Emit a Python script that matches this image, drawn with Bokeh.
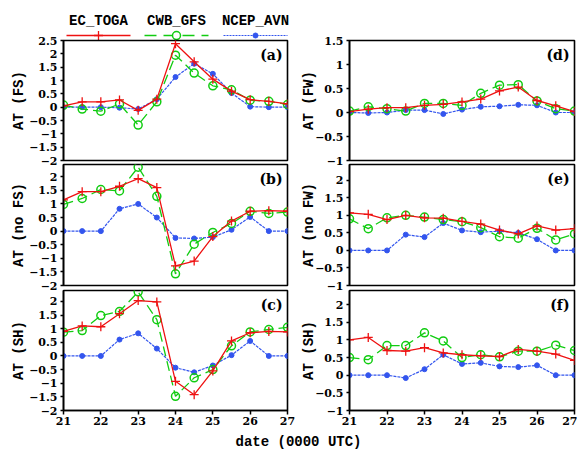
from bokeh.plotting import figure
from bokeh.layouts import column, row
from bokeh.models import Range1d, FixedTicker, Label
from bokeh.core.properties import value
from bokeh.embed import file_html
from bokeh.resources import INLINE

# ---------------- data ----------------
DATES = [21.0, 21.5, 22.0, 22.5, 23.0, 23.5, 24.0, 24.5, 25.0, 25.5, 26.0, 26.5, 27.0]
X_TICKS = [21, 22, 23, 24, 25, 26, 27]
SERIES = ["EC_TOGA", "CWB_GFS", "NCEP_AVN"]

# (a) AT (FS)
EC_FS = [0.05, 0.20, 0.20, 0.27, -0.12, 0.30, 2.38, 1.70, 1.05, 0.60, 0.28, 0.22, 0.12]
CWB_FS = [0.08, -0.07, -0.15, 0.12, -0.67, 0.20, 1.95, 1.28, 0.80, 0.65, 0.26, 0.22, 0.10]
NCEP_FS = [0.0, 0.0, 0.0, -0.02, -0.07, 0.30, 1.13, 1.63, 1.25, 0.53, 0.02, 0.0, 0.0]

# (b) AT (no FS)
EC_NOFS = [1.15, 1.45, 1.45, 1.65, 1.93, 1.60, -1.28, -1.10, -0.20, 0.37, 0.73, 0.75, 0.73]
CWB_NOFS = [0.98, 1.20, 1.53, 1.48, 2.35, 1.28, -1.57, -0.48, -0.05, 0.28, 0.73, 0.65, 0.70]
NCEP_NOFS = [0.0, 0.0, 0.0, 0.82, 1.00, 0.50, -0.25, -0.27, -0.22, 0.05, 0.52, 0.0, 0.0]

# (c) AT (SH) left
EC_SH1 = [0.90, 1.10, 1.07, 1.55, 2.03, 1.98, -0.93, -1.42, -0.55, 0.55, 0.85, 0.90, 0.88]
CWB_SH1 = [0.87, 0.93, 1.48, 1.63, 2.35, 1.33, -1.48, -0.80, -0.50, 0.37, 0.88, 0.97, 1.05]
NCEP_SH1 = [0.0, 0.0, 0.0, 0.60, 0.83, 0.27, -0.43, -0.60, -0.35, 0.03, 0.55, 0.0, 0.0]

# (d) AT (FW)
EC_FW = [0.02, 0.07, 0.10, 0.10, 0.15, 0.17, 0.22, 0.28, 0.45, 0.53, 0.25, 0.14, 0.02]
CWB_FW = [0.03, 0.12, 0.08, 0.03, 0.19, 0.19, 0.15, 0.40, 0.57, 0.58, 0.24, 0.08, 0.03]
NCEP_FW = [0.0, -0.01, 0.0, 0.05, 0.05, -0.03, 0.06, 0.12, 0.13, 0.16, 0.15, 0.0, 0.0]

# (e) AT (no FW)
EC_NOFW = [1.07, 1.03, 0.88, 1.00, 0.93, 0.92, 0.83, 0.75, 0.58, 0.47, 0.70, 0.58, 0.62]
CWB_NOFW = [0.90, 0.62, 0.93, 1.00, 0.95, 0.88, 0.82, 0.65, 0.39, 0.35, 0.63, 0.30, 0.47]
NCEP_NOFW = [0.0, 0.0, 0.0, 0.45, 0.38, 0.78, 0.57, 0.52, 0.55, 0.50, 0.32, 0.0, 0.0]

# (f) AT (SH) right
EC_SH2 = [1.00, 1.07, 0.70, 0.68, 0.78, 0.63, 0.58, 0.55, 0.53, 0.73, 0.68, 0.60, 0.42]
CWB_SH2 = [0.50, 0.44, 0.84, 0.84, 1.20, 0.97, 0.50, 0.58, 0.52, 0.68, 0.68, 0.85, 0.70]
NCEP_SH2 = [0.0, 0.0, 0.0, -0.08, 0.17, 0.58, 0.32, 0.35, 0.25, 0.23, 0.28, 0.0, 0.0]

TICKS_A = [-2, -1.5, -1, -0.5, 0, 0.5, 1, 1.5, 2, 2.5]
TICKS_BC = [-2, -1.5, -1, -0.5, 0, 0.5, 1, 1.5, 2]
TICKS_D = [-1, -0.5, 0, 0.5, 1, 1.5]
TICKS_EF = [-1, -0.5, 0, 0.5, 1, 1.5, 2]

# ---------------- style ----------------
RED = "#ee1111"
GREEN = "#11cc11"
BLUE = "#3355ee"
TICK_FONT = "DejaVu Serif"
LABEL_FONT = "Liberation Mono"


def fmt(v):
    s = ("%g" % v)
    return s.replace("-", "\u2212")


def panel(ylabel, tag, yr, yticks, ec, cwb, ncep, fw, left, right, top, fh, bottom,
          show_x, lab_standoff, margin):
    p = figure(frame_width=fw, frame_height=fh,
               x_range=Range1d(21, 27), y_range=Range1d(*yr),
               output_backend="svg", toolbar_location=None,
               min_border_left=left, min_border_right=right,
               min_border_top=top, min_border_bottom=bottom)
    p.margin = margin
    p.xgrid.visible = False
    p.ygrid.visible = False
    p.outline_line_color = "black"
    p.outline_line_width = 1.6
    p.background_fill_color = None
    p.border_fill_color = None

    ya = p.yaxis[0]
    ya.ticker = FixedTicker(ticks=yticks)
    ya.major_label_overrides = {float(t): fmt(t) for t in yticks}
    ya.major_tick_out = 3
    ya.major_tick_in = 0
    ya.minor_tick_out = 0
    ya.minor_tick_in = 0
    ya.major_tick_line_width = 1.5
    ya.axis_line_width = 1.6
    ya.major_label_standoff = 3
    ya.major_label_text_font = TICK_FONT
    ya.major_label_text_font_style = "bold"
    ya.major_label_text_font_size = "11px"
    ya.major_label_text_color = "black"
    ya.axis_label = ylabel
    ya.axis_label_text_font = LABEL_FONT
    ya.axis_label_text_font_style = "bold"
    ya.axis_label_text_font_size = "14px"
    ya.axis_label_text_color = "black"
    ya.axis_label_standoff = lab_standoff

    xa = p.xaxis[0]
    if show_x:
        xa.ticker = FixedTicker(ticks=X_TICKS)
        xa.major_tick_out = 4
        xa.major_tick_in = 0
        xa.minor_tick_out = 0
        xa.minor_tick_in = 0
        xa.major_tick_line_width = 1.5
        xa.axis_line_width = 1.6
        xa.major_label_standoff = 2
        xa.major_label_text_font = TICK_FONT
        xa.major_label_text_font_style = "bold"
        xa.major_label_text_font_size = "11px"
        xa.major_label_text_color = "black"
    else:
        xa.visible = False

    p.line(DATES, ncep, line_color=BLUE, line_width=1.2, line_dash="3 1")
    p.scatter(DATES, ncep, marker="circle", size=5, fill_color=BLUE, line_color=BLUE)
    p.line(DATES, cwb, line_color=GREEN, line_width=1.3, line_dash="10 5")
    p.scatter(DATES, cwb, marker="circle", size=8, fill_color=None,
              line_color=GREEN, line_width=1.5)
    p.line(DATES, ec, line_color=RED, line_width=1.3)
    p.scatter(DATES, ec, marker="cross", size=9, line_color=RED, line_width=1.3)

    p.add_layout(Label(x=27, y=yr[1], text=tag, text_align="right", text_baseline="top",
                       x_offset=-5, y_offset=-6, text_font=TICK_FONT,
                       text_font_style="bold", text_font_size="14px", text_color="black"))
    return p


# page origin at (0, 0)
# left column: frame x 63..287 ; right column: frame x 349..574
# rows: frames y 40..160, 164..285, 290..410
pa = panel("AT (FS)", "(a)", (-2, 2.5), TICKS_A, EC_FS, CWB_FS, NCEP_FS,
           224, 63, 10, 10, 120, 8, False, -1, (0, 0, 0, 0))
pb = panel("AT (no FS)", "(b)", (-2, 2.45), TICKS_BC, EC_NOFS, CWB_NOFS, NCEP_NOFS,
           224, 63, 10, 8, 121, 8, False, -1, (-12, 0, 0, 0))
pc = panel("AT (SH)", "(c)", (-2, 2.4), TICKS_BC, EC_SH1, CWB_SH1, NCEP_SH1,
           224, 63, 10, 8, 120, 19, True, -1, (-11, 0, 0, 0))
pd = panel("AT (FW)", "(d)", (-1, 1.5), TICKS_D, EC_FW, CWB_FW, NCEP_FW,
           225, 62, 3, 10, 120, 8, False, -5, (0, 0, 0, 0))
pe = panel("AT (no FW)", "(e)", (-1, 2.45), TICKS_EF, EC_NOFW, CWB_NOFW, NCEP_NOFW,
           225, 62, 3, 8, 121, 8, False, -5, (-12, 0, 0, 0))
pf = panel("AT (SH)", "(f)", (-1, 2.4), TICKS_EF, EC_SH2, CWB_SH2, NCEP_SH2,
           225, 62, 3, 8, 120, 19, True, -5, (-11, 0, 0, 0))

# ---------------- legend strip (page-pixel coordinates) ----------------
leg = figure(width=300, height=40, x_range=Range1d(0, 300), y_range=Range1d(40, 0),
             x_axis_type=None, y_axis_type=None, output_backend="svg",
             toolbar_location=None, min_border=0)
leg.outline_line_color = None
leg.background_fill_color = None
leg.border_fill_color = None
leg.xgrid.visible = False
leg.ygrid.visible = False
LEG_CENTER = [98, 176, 255]
LEG_HALF = 32
leg.text(x=LEG_CENTER, y=[20, 20, 20], text=SERIES, text_align="center",
         text_baseline="middle", text_font=value(LABEL_FONT), text_font_style="bold",
         text_font_size="14px", text_color="black")
leg.segment(x0=[LEG_CENTER[0] - LEG_HALF], x1=[LEG_CENTER[0] + LEG_HALF], y0=[35], y1=[35],
            line_color=RED, line_width=1.3)
leg.scatter(x=[LEG_CENTER[0]], y=[35], marker="cross", size=9, line_color=RED, line_width=1.3)
leg.segment(x0=[LEG_CENTER[1] - LEG_HALF], x1=[LEG_CENTER[1] + LEG_HALF], y0=[35], y1=[35],
            line_color=GREEN, line_width=1.3, line_dash="12 7")
leg.scatter(x=[LEG_CENTER[1]], y=[35], marker="circle", size=8, fill_color="white",
            line_color=GREEN, line_width=1.5)
leg.segment(x0=[LEG_CENTER[2] - LEG_HALF], x1=[LEG_CENTER[2] + LEG_HALF], y0=[35], y1=[35],
            line_color=BLUE, line_width=1.2, line_dash="2 1")
leg.scatter(x=[LEG_CENTER[2]], y=[35], marker="circle", size=5, fill_color=BLUE, line_color=BLUE)

# ---------------- common x label ----------------
xl = figure(width=577, height=20, x_range=Range1d(0, 577), y_range=Range1d(449, 429),
            x_axis_type=None, y_axis_type=None, output_backend="svg",
            toolbar_location=None, min_border=0)
xl.outline_line_color = None
xl.background_fill_color = None
xl.border_fill_color = None
xl.xgrid.visible = False
xl.ygrid.visible = False
xl.add_layout(Label(x=298, y=441, text="date (0000 UTC)", text_align="center",
                    text_baseline="middle", text_font=LABEL_FONT,
                    text_font_style="bold", text_font_size="14px", text_color="black"))

left_col = column(pa, pb, pc)
right_col = column(pd, pe, pf)
right_col.margin = (0, 0, 0, -10)
panels = row(left_col, right_col)
panels.margin = (-10, 0, 0, 0)

layout = column(leg, panels, xl)

open("out.html", "w").write(file_html(layout, INLINE))
